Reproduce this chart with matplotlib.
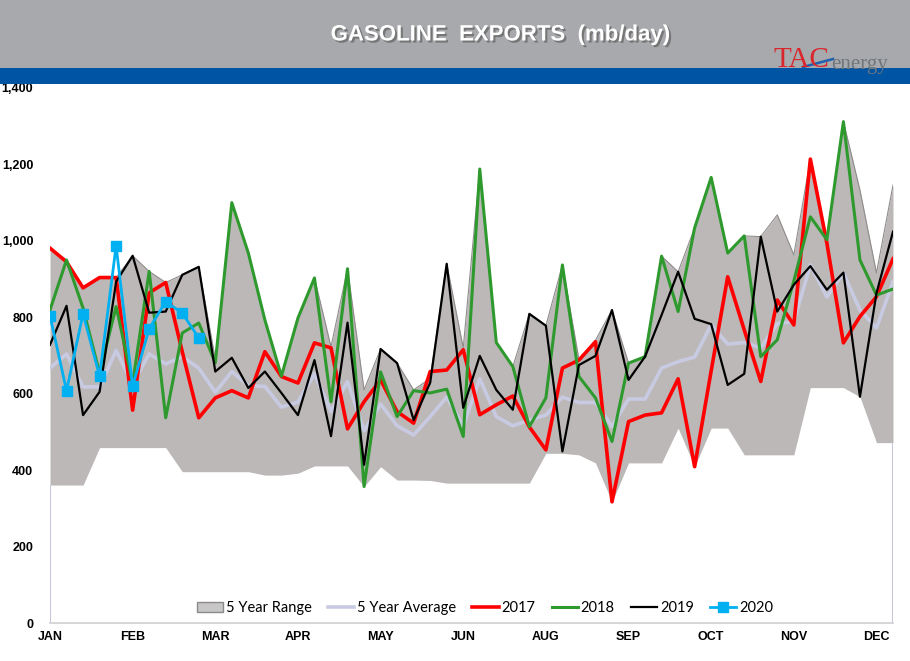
import numpy as np
import matplotlib
matplotlib.use('Agg')
import matplotlib.pyplot as plt
import matplotlib.patheffects as pe
from matplotlib.patches import Rectangle, Patch
from matplotlib.lines import Line2D

# weekly values, mb/day
months = ['JAN', 'FEB', 'MAR', 'APR', 'MAY', 'JUN', 'AUG', 'SEP', 'OCT', 'NOV', 'DEC']

y2017 = [981, 945, 877, 904, 904, 557, 864, 891, 710, 537, 589, 608, 589, 710, 645, 628, 733, 720,
         508, 579, 636, 553, 523, 658, 662, 715, 545, 571, 594, 513, 453, 667, 688, 736, 317, 527,
         544, 550, 639, 409, 660, 906, 767, 632, 845, 780, 1214, 994, 733, 802, 854, 953]
y2018 = [819, 950, 824, 654, 828, 628, 920, 537, 759, 785, 681, 1100, 968, 793, 646, 798, 903, 579,
         927, 357, 657, 540, 608, 602, 612, 488, 1188, 734, 671, 514, 589, 937, 645, 589, 475, 680,
         697, 960, 815, 1034, 1166, 968, 1013, 697, 741, 895, 1063, 1003, 1312, 950, 858, 874]
y2019 = [728, 830, 544, 605, 893, 961, 812, 815, 911, 932, 658, 694, 615, 658, 602, 544, 688, 489,
         786, 414, 717, 680, 531, 629, 940, 563, 699, 610, 558, 809, 778, 449, 675, 699, 819, 636,
         697, 806, 919, 796, 782, 623, 652, 1011, 815, 885, 934, 872, 917, 592, 863, 1024]
y2020 = [804, 608, 809, 646, 987, 620, 770, 841, 811, 746]
avg5 = [667, 704, 618, 618, 713, 626, 704, 678, 697, 667, 604, 658, 621, 619, 565, 578, 652, 553,
        632, 503, 573, 516, 492, 540, 591, 516, 639, 540, 516, 531, 544, 591, 577, 577, 514, 586,
        586, 667, 684, 696, 780, 730, 734, 720, 783, 789, 937, 853, 916, 819, 772, 893]
hi5 = [981, 950, 877, 904, 904, 961, 920, 891, 911, 932, 690, 1100, 968, 793, 650, 798, 903, 723,
       927, 610, 717, 680, 610, 640, 940, 720, 1188, 734, 671, 809, 778, 937, 690, 740, 819, 680,
       697, 960, 919, 1034, 1166, 968, 1013, 1011, 1068, 963, 1214, 1003, 1312, 1133, 916, 1146]
lo5 = [361, 361, 361, 459, 459, 459, 459, 459, 396, 396, 396, 396, 396, 387, 387, 392, 411, 411,
       411, 357, 409, 374, 374, 373, 366, 366, 366, 366, 366, 366, 444, 444, 440, 419, 317, 419,
       419, 419, 510, 409, 510, 510, 440, 440, 440, 440, 616, 616, 616, 592, 472, 472]

weeks = np.arange(len(y2017))

fig = plt.figure(figsize=(9.1, 6.61), dpi=100)
fig.patch.set_facecolor('white')

# header band, blue stripe
fig.patches.append(Rectangle((0, 1 - 68/661), 1, 68/661, transform=fig.transFigure,
                             facecolor='#a8a9ac', edgecolor='none'))
fig.patches.append(Rectangle((0, 1 - 84/661), 1, 16/661, transform=fig.transFigure,
                             facecolor='#0054a4', edgecolor='none'))
fig.text(0.55, 1 - 35/661, 'GASOLINE  EXPORTS  (mb/day)', color='white', fontsize=16,
         fontweight='bold', family='Liberation Sans', ha='center', va='center',
         path_effects=[pe.withSimplePatchShadow(offset=(1.5, -1.5), shadow_rgbFace='#555555', alpha=0.6)])

# logo
fig.text(774/910, 1 - 60/661, 'TAC', color='#d9262c', fontsize=21, family='Liberation Serif',
         ha='left', va='center')
fig.text(831/910, 1 - 64/661, 'energy', color='#6e777c', fontsize=15, family='Liberation Serif',
         ha='left', va='center')
fig.lines.append(Line2D([803/910, 833/910], [1 - 67/661, 1 - 59/661], transform=fig.transFigure,
                        color='#1f5fb0', linewidth=1.8))

ax = fig.add_axes([50/910, 1 - 623/661, 843/910, 535/661])

ax.fill_between(weeks, lo5, hi5, color='#bcb8b8', linewidth=0, zorder=1)
ax.plot(weeks, hi5, color='#8f8c8c', linewidth=0.8, zorder=1.5)
ax.vlines([weeks[0], weeks[-1]], 0, [lo5[0], lo5[-1]], color='#c5c7dc', linewidth=1.5, zorder=1.5)

ax.plot(weeks, avg5, color='#c8cae2', linewidth=2.6, zorder=2)
ax.plot(weeks, y2017, color='#ff0000', linewidth=2.6, zorder=3)
ax.plot(weeks, y2018, color='#2e9a2e', linewidth=2.2, zorder=3)
ax.plot(weeks, y2019, color='black', linewidth=1.6, zorder=4)
ax.plot(weeks[:len(y2020)], y2020, color='#00b0f0', linewidth=2, marker='s', markersize=7, zorder=5)

ax.set_xlim(0, 51)
ax.set_ylim(0, 1400)
ax.set_xticks(weeks[::5][:len(months)])
ax.set_xticklabels(months)
ax.set_yticks(range(0, 1401, 200))
ax.set_yticklabels([f'{v:,}' for v in range(0, 1401, 200)])
ax.tick_params(length=0)
ax.tick_params(axis='y', pad=12)
ax.tick_params(axis='x', pad=6)
for lab in ax.get_xticklabels() + ax.get_yticklabels():
    lab.set_fontweight('bold')
    lab.set_fontsize(9)
    lab.set_family('Liberation Sans')

for s in ['top', 'left', 'right']:
    ax.spines[s].set_visible(False)
ax.spines['bottom'].set_color('#d0d0d0')
ax.spines['bottom'].set_linewidth(1.2)

handles = [Patch(facecolor='#c8c6c6', edgecolor='#8a8a8a', label='5 Year Range'),
           Line2D([], [], color='#c8cae2', linewidth=2.6, label='5 Year Average'),
           Line2D([], [], color='#ff0000', linewidth=2.6, label='2017'),
           Line2D([], [], color='#2e9a2e', linewidth=2.2, label='2018'),
           Line2D([], [], color='black', linewidth=1.6, label='2019'),
           Line2D([], [], color='#00b0f0', linewidth=2, marker='s', markersize=7, label='2020')]
ax.legend(handles=handles, loc='lower center', bbox_to_anchor=(0.516, -0.01), ncol=6,
          frameon=False, handlelength=1.8, handletextpad=0.2, columnspacing=1.1,
          prop={'family': 'Lato', 'size': 10.5})

fig.savefig('out.png', dpi=100)
